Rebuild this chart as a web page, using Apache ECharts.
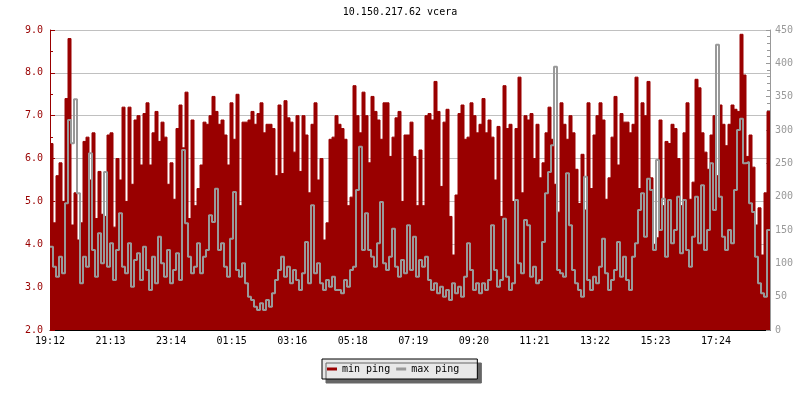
<!DOCTYPE html>
<html><head><meta charset="utf-8">
<script src="https://cdn.jsdelivr.net/npm/echarts@6/dist/echarts.min.js"></script>
<style>html,body{margin:0;padding:0;background:#fff}#c{width:800px;height:400px}</style>
</head><body><div id="c"></div>
<script>
const chartTitle = '10.150.217.62 vcera';
const binMinutes = 6;
const xTickLabels = ['19:12','21:13','23:14','01:15','03:16','05:18','07:19','09:20','11:21','13:22','15:23','17:24'];
const xTickStep = 121.1;
const leftTickLabels = ['2.0','3.0','4.0','5.0','6.0','7.0','8.0','9.0'];

const minPing = [
6.35,4.5,5.6,5.9,5.0,7.4,8.8,4.45,5.2,4.1,4.5,6.4,6.5,5.5,6.6,4.6,5.7,4.7,4.65,6.55,6.6,4.4,6.0,5.5,7.2,5.0,7.2,5.4,6.9,7.0,5.85,7.05,7.3,5.85,6.6,7.1,6.4,6.85,6.5,5.4,5.9,5.05,6.7,7.25,6.25,7.55,4.6,6.9,
4.9,5.3,5.85,6.85,6.8,7.0,7.45,7.1,6.8,6.9,6.55,5.85,7.3,6.45,7.5,4.9,6.85,6.85,6.9,7.1,6.8,7.05,7.3,6.6,6.8,6.8,6.7,5.6,7.25,5.65,7.35,6.95,6.85,6.15,7.0,5.7,7.0,6.55,5.2,6.8,7.3,5.5,6.0,4.1,4.5,6.45,6.5,7.0,
6.8,6.7,6.45,4.9,5.1,7.7,7.0,6.6,7.55,7.0,5.9,7.45,7.1,6.9,6.45,7.3,7.3,6.05,6.5,6.95,7.1,5.0,6.55,6.55,6.85,6.05,4.9,6.2,4.9,7.0,7.05,6.9,7.8,7.1,5.35,6.85,7.15,4.65,3.75,5.15,7.05,7.25,6.45,6.5,7.3,7.0,6.6,6.8,
7.4,6.6,6.9,6.5,5.5,6.75,4.65,7.7,6.7,6.8,5.0,6.7,7.9,5.2,7.0,6.9,7.05,6.0,6.8,5.55,5.9,6.6,7.2,6.45,5.4,4.75,7.3,6.8,6.45,7.0,6.6,5.75,4.95,6.1,4.8,7.3,5.3,6.55,7.0,7.3,6.9,5.05,5.55,6.5,7.45,5.85,7.05,6.85,
6.85,6.6,6.8,7.9,5.3,7.3,7.0,7.8,5.55,4.0,4.15,6.9,4.9,6.4,6.35,6.8,6.7,6.0,4.9,6.6,7.3,5.05,5.45,7.85,7.65,6.6,6.15,5.75,6.55,7.0,5.6,7.25,6.8,6.3,6.8,7.25,7.15,7.1,8.9,7.95,6.05,6.55,5.8,4.45,4.85,3.75,5.2,7.1
];

const maxPing = [
125,95,80,110,85,190,315,280,346,205,70,110,95,265,120,80,145,100,237,95,130,75,120,175,95,85,130,65,105,115,75,125,90,60,110,70,140,100,80,120,70,90,115,75,270,160,110,85,
95,130,85,110,120,172,162,212,120,130,95,80,137,207,90,80,100,70,50,45,35,30,40,30,45,35,55,75,90,110,80,95,70,90,75,60,85,132,70,187,85,100,70,60,75,65,80,60,
60,55,75,65,90,95,210,275,120,175,120,110,95,130,192,100,90,110,152,95,80,105,85,157,90,140,80,105,95,110,75,60,70,55,65,50,60,45,70,55,65,50,80,130,90,60,70,55,
70,60,75,157,90,65,75,167,80,60,70,195,100,85,165,157,80,95,70,75,132,205,237,277,395,90,85,80,235,157,90,70,60,50,230,75,60,80,70,95,137,85,60,75,90,132,80,110,
75,60,110,130,180,205,140,227,210,120,255,150,197,110,195,130,150,200,115,195,120,95,140,200,130,217,120,150,250,180,428,200,140,120,150,130,210,300,317,250,252,190,177,110,70,55,50,150
];

function toSteps(arr) {
  const out = arr.map((v, i) => [i * binMinutes, v]);
  out.push([arr.length * binMinutes, arr[arr.length - 1]]);
  return out;
}
const xTickValues = xTickLabels.map((_, i) => i * xTickStep);
const mono = 'DejaVu Sans Mono';
const red = '#990000', grey = '#999999';

const chart = echarts.init(document.getElementById('c'), null, {renderer: 'canvas'});
chart.setOption({
  animation: false,
  backgroundColor: '#ffffff',
  title: {
    text: chartTitle, left: 'center', top: 7, padding: 0,
    textStyle: {fontFamily: mono, fontSize: 10, fontWeight: 'normal', color: '#000'}
  },
  grid: {left: 50, right: 30, top: 30, bottom: 70},
  legend: {
    left: 322, top: 359,
    padding: [5, 18, 5, 5],
    itemGap: 6, itemWidth: 10, itemHeight: 3,
    backgroundColor: '#e8e8e8', borderColor: '#000', borderWidth: 1,
    shadowColor: '#666666', shadowBlur: 0, shadowOffsetX: 4, shadowOffsetY: 4,
    textStyle: {fontFamily: mono, fontSize: 10, color: '#000'},
    itemStyle: {borderWidth: 0},
    data: [
      {name: 'min ping', icon: 'rect', itemStyle: {color: red, borderWidth: 0}},
      {name: 'max ping', icon: 'rect', itemStyle: {color: grey, borderWidth: 0}}
    ]
  },
  xAxis: {
    type: 'value', min: 0, max: minPing.length * binMinutes,
    axisLine: {show: true, lineStyle: {color: '#000', width: 1}},
    axisTick: {show: true, inside: true, length: 5, customValues: xTickValues, lineStyle: {color: '#000'}},
    axisLabel: {
      customValues: xTickValues, color: '#000', fontFamily: mono, fontSize: 10, margin: 6,
      formatter: v => xTickLabels[Math.round(v / xTickStep)]
    },
    splitLine: {show: false}
  },
  yAxis: [{
    type: 'value', min: 2, max: 9, interval: 1, position: 'left',
    axisLine: {show: true, lineStyle: {color: red, width: 1}},
    axisTick: {show: true, inside: true, length: 5, lineStyle: {color: red}},
    minorTick: {show: true, splitNumber: 2, length: 3, lineStyle: {color: red}},
    axisLabel: {color: red, fontFamily: mono, fontSize: 10, margin: 7,
      formatter: v => leftTickLabels[Math.round(v - 2)]},
    splitLine: {show: true, lineStyle: {color: '#c0c0c0', width: 1}}
  }, {
    type: 'value', min: 0, max: 450, interval: 50, position: 'right',
    axisLine: {show: true, lineStyle: {color: grey, width: 1}},
    axisTick: {show: true, inside: true, length: 4, lineStyle: {color: grey}},
    minorTick: {show: true, splitNumber: 5, length: 3, lineStyle: {color: grey}},
    axisLabel: {color: grey, fontFamily: mono, fontSize: 10, margin: 5},
    splitLine: {show: false}
  }],
  series: [{
    name: 'min ping', type: 'line', yAxisIndex: 0, step: 'end', symbol: 'none',
    data: toSteps(minPing),
    lineStyle: {width: 1, color: red},
    itemStyle: {color: red},
    areaStyle: {color: red, opacity: 1, origin: 'start'},
    z: 2
  }, {
    name: 'max ping', type: 'line', yAxisIndex: 1, step: 'end', symbol: 'none',
    data: toSteps(maxPing),
    lineStyle: {width: 2, color: grey},
    itemStyle: {color: grey},
    z: 3
  }]
});
</script>
</body></html>
